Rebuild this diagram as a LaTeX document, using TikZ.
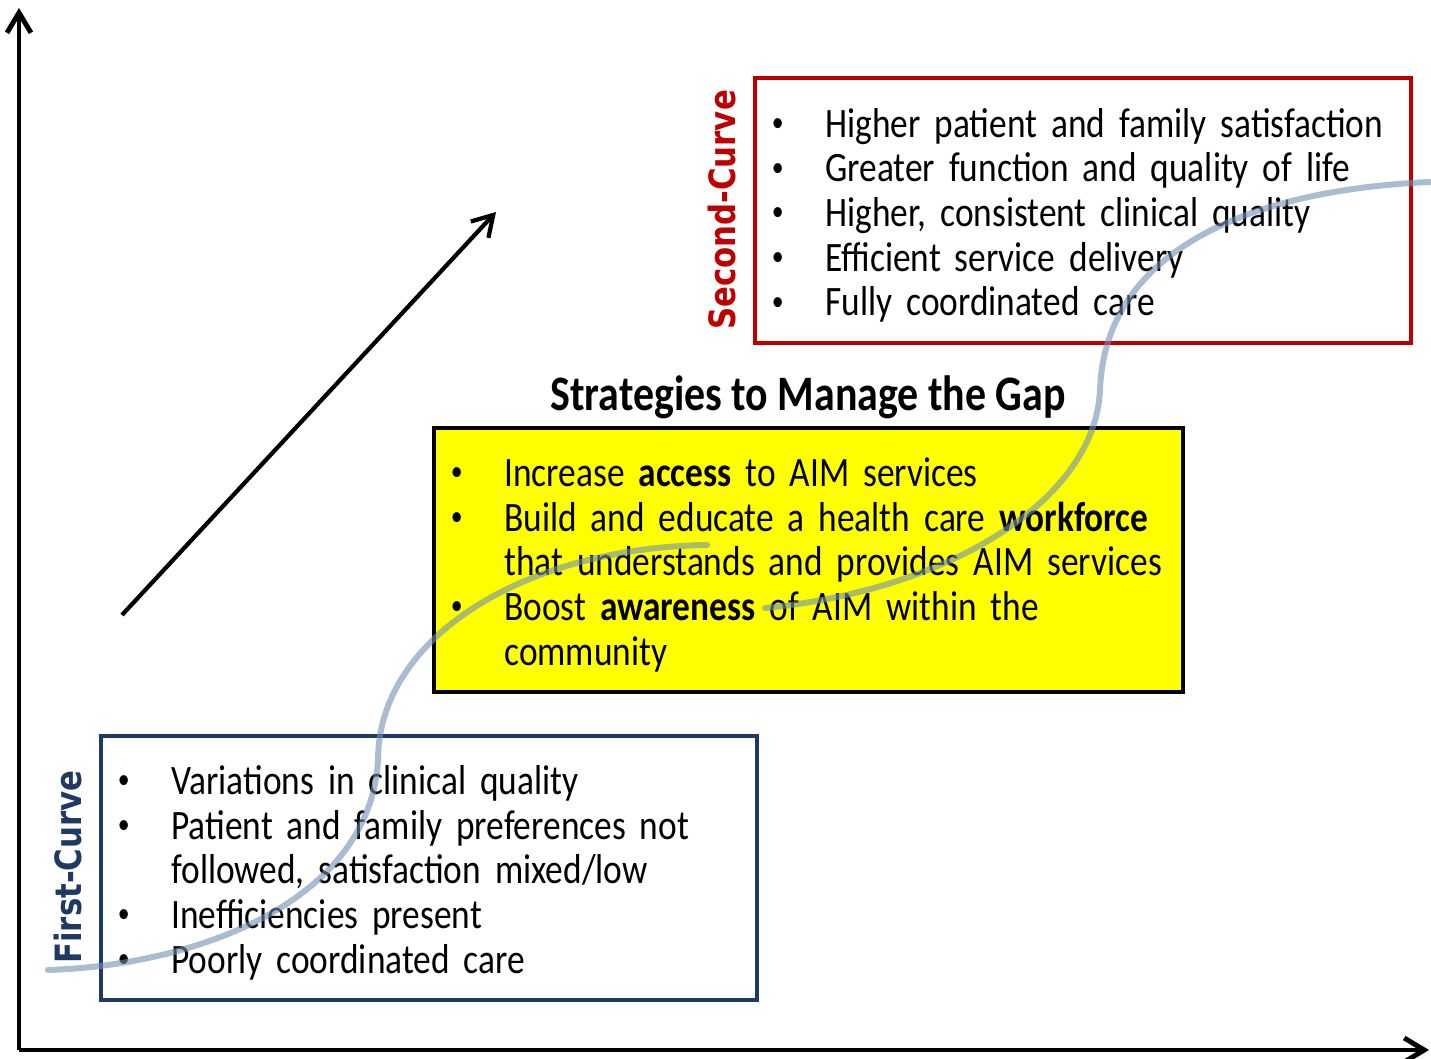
\documentclass[tikz,border=0pt]{standalone}
\usepackage{fontspec}
\setmainfont{Carlito}[FakeStretch=0.845, WordSpace=0.6]
\newfontfamily\headfont{Carlito}[FakeStretch=0.845]
\newfontfamily\curvefont{DejaVu Sans}[FakeStretch=0.85]
\usepackage{tikz}
\usetikzlibrary{positioning}
\usetikzlibrary{arrows.meta}
\definecolor{curvered}{RGB}{192,0,0}
\definecolor{curvenavy}{RGB}{31,56,100}
\definecolor{gapyellow}{RGB}{255,255,0}
\definecolor{gapline}{RGB}{113,143,180}
\newcommand{\listfont}{\fontsize{11.9}{12.7}\selectfont}
\newcommand{\dotmark}{\hspace{0.03cm}\raisebox{1.6pt}{\fontsize{8}{8}\selectfont\textbullet}}
% lower the printed lines a little, keeping the box size
\newcommand{\droplist}[1]{\raisebox{-0.07cm}[\height][\depth]{#1}}

\begin{document}
\begin{tikzpicture}[
    x=0.01cm, y=-0.01cm,
    axis/.style={line width=1.4pt, -{Straight Barb[length=2mm,width=2.4mm]}},
    listbox/.style={draw, line width=1.2pt, align=left, inner xsep=0.14cm,
        inner ysep=0pt, text width=6.28cm, minimum height=2.65cm, font=\listfont},
    sidelabel/.style={rotate=90, font=\curvefont\bfseries\fontsize{10.3}{12}\selectfont},
    gapcurve/.style={gapline, opacity=0.6, line width=1.7pt, line cap=round}
  ]
  \useasboundingbox (0,0) rectangle (1431,1058);
  % axes
  \coordinate (origin) at (19,1050);
  \coordinate (ytip) at (19,8);
  \coordinate (xtip) at (1429,1050);
  \draw[axis] (origin) -- (ytip);
  \draw[axis] (origin) -- (xtip);
  % rising arrow
  \coordinate (risefrom) at (122,615);
  \coordinate (riseto) at (496,212);
  \draw[axis, line width=1.2pt] (risefrom) -- (riseto);
  % second curve box
  \node[listbox, draw=curvered] (secondbox) at (1083,210.5) {\droplist{%
    \begin{tabular}{@{}p{0.565cm}@{}l@{}}
      \dotmark & Higher patient and family satisfaction\\
      \dotmark & Greater function and quality of life\\
      \dotmark & Higher, consistent clinical quality\\
      \dotmark & Efficient service delivery\\
      \dotmark & Fully coordinated care
    \end{tabular}}};
  \node[sidelabel, text=curvered] (secondlabel) at (722,210) {Second-Curve};
  % gap strategies
  \node[font=\headfont\bfseries\fontsize{14.1}{16}\selectfont] (gaptitle) at (808,397)
    {Strategies to Manage the Gap};
  \node[listbox, fill=gapyellow, text width=7.21cm, minimum height=2.64cm]
    (gapbox) at (808.5,560) {\droplist{%
    \begin{tabular}{@{}p{0.565cm}@{}l@{}}
      \dotmark & Increase \textbf{access} to AIM services\\
      \dotmark & Build and educate a health care \textbf{workforce}\\
               & that understands and provides AIM services\\
      \dotmark & Boost \textbf{awareness} of AIM within the\\
               & community
    \end{tabular}}};
  % first curve box
  \node[listbox, draw=curvenavy, minimum height=2.64cm] (firstbox) at (429,868) {\droplist{%
    \begin{tabular}{@{}p{0.565cm}@{}l@{}}
      \dotmark & Variations in clinical quality\\
      \dotmark & Patient and family preferences not\\
               & followed, satisfaction mixed/low\\
      \dotmark & Inefficiencies present\\
      \dotmark & Poorly coordinated care
    \end{tabular}}};
  \node[sidelabel, text=curvenavy] (firstlabel) at (68,867) {First-Curve};
  % the two s-curves
  \draw[gapcurve] (48,970) .. controls (200,965) and (370,900) .. (378,760)
    .. controls (378,640) and (520,548) .. (707,545);
  \draw[gapcurve] (765,608) .. controls (950,590) and (1095,500) .. (1100,390)
    .. controls (1105,250) and (1250,190) .. (1430,182);
\end{tikzpicture}
\end{document}
